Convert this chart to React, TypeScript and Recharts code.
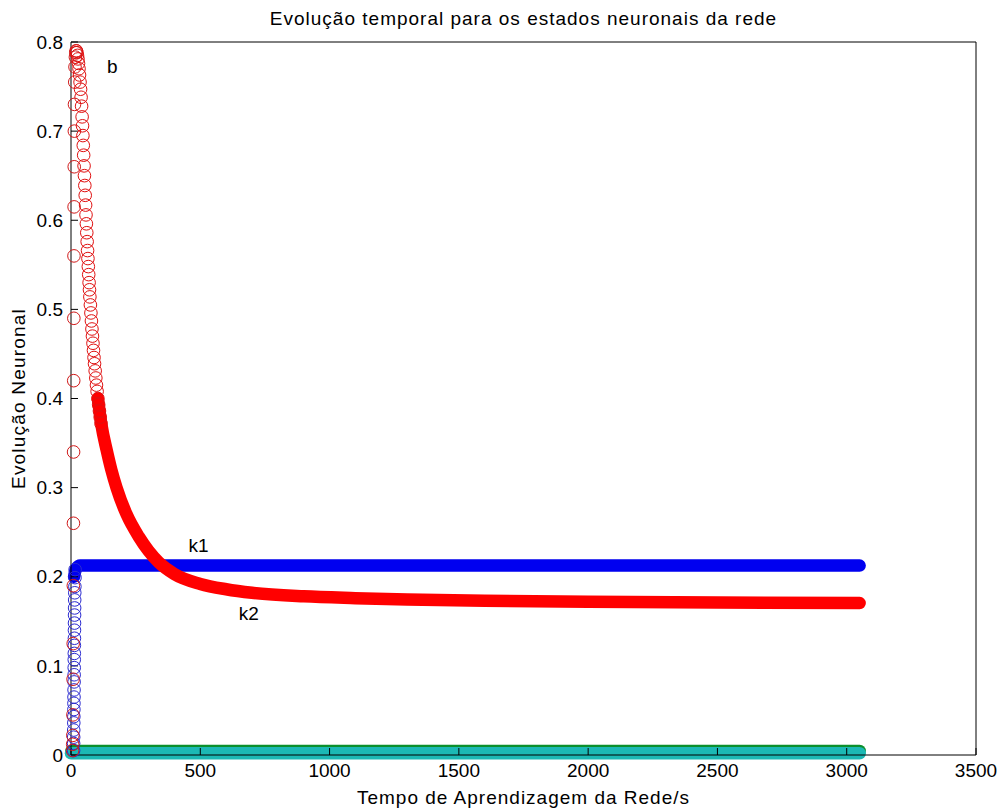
import React from "react";
import { ComposedChart, Line, Scatter, XAxis, YAxis, ReferenceDot } from "recharts";

type Pt = { t: number; v: number };
const pts = (rows: number[][]): Pt[] => rows.map(([t, v]) => ({ t, v }));

const xTicks = [0, 500, 1000, 1500, 2000, 2500, 3000, 3500];
const yTicks = [0, 0.1, 0.2, 0.3, 0.4, 0.5, 0.6, 0.7, 0.8];

// red state (b): fast rise + early decay, drawn as open circles
const bRise = pts([
    [6, 0.005], [6.5, 0.012], [7, 0.022], [7.5, 0.045], [8, 0.085], [8.5, 0.125],
    [9, 0.19], [9.5, 0.26], [10, 0.34], [10.5, 0.42], [11, 0.49], [11.5, 0.56],
    [12, 0.615], [12.5, 0.66], [13, 0.70], [13.5, 0.73], [14.5, 0.755], [15.5, 0.772],
    [17, 0.783], [18.5, 0.788], [20, 0.79],
]);
const bDecay = pts([
    [21, 0.79], [23, 0.788], [25, 0.785], [27, 0.781], [29, 0.776], [31, 0.77],
    [33, 0.763], [35, 0.755], [37, 0.747], [39, 0.738], [41, 0.728], [43, 0.716],
    [44.5, 0.706], [46, 0.695], [47.5, 0.684], [49, 0.673], [50.5, 0.661], [52, 0.65],
    [53.5, 0.639], [55, 0.628], [56.5, 0.617], [58, 0.606], [59.5, 0.596], [61, 0.586],
    [62.5, 0.576], [64, 0.566], [65.5, 0.557], [67, 0.548], [68.5, 0.539], [70, 0.53],
    [71.5, 0.522], [73, 0.514], [75, 0.505], [77, 0.496], [79, 0.487], [81, 0.478],
    [83, 0.47], [85, 0.462], [87, 0.454], [89, 0.446], [91, 0.439], [93.5, 0.431],
    [96, 0.423], [98.5, 0.415], [101, 0.408], [104, 0.4], [107, 0.393], [110, 0.386],
    [113, 0.379], [116, 0.372],
]);
// red state: dense part, reads as a solid band
const bTail = pts([
    [104, 0.4], [118, 0.37], [138, 0.342], [156, 0.32], [176, 0.3], [215, 0.27],
    [262, 0.245], [300, 0.229], [340, 0.216], [400, 0.203], [500, 0.192], [600, 0.186],
    [700, 0.182], [900, 0.178], [1100, 0.176], [1300, 0.1745], [1600, 0.173],
    [2000, 0.172], [2500, 0.171], [3050, 0.1705],
]);

// blue state (k1)
const k1Rise = pts([
    [10, 0.005], [10.2, 0.013], [10.4, 0.02], [10.6, 0.028], [10.8, 0.036], [11, 0.043],
    [11.2, 0.051], [11.4, 0.058], [11.6, 0.065], [11.8, 0.073], [12, 0.082], [12.2, 0.09],
    [12.4, 0.098], [12.6, 0.107], [12.8, 0.114], [13, 0.123], [13.2, 0.131], [13.4, 0.14],
    [13.6, 0.148], [13.8, 0.157], [14, 0.165], [14.3, 0.174], [14.6, 0.182], [15, 0.189],
    [15.5, 0.199], [16, 0.208],
]);
const k1Tail = pts([
    [12, 0.2], [16, 0.206], [22, 0.21], [35, 0.2125], [500, 0.2125], [1000, 0.2125],
    [2000, 0.2125], [3050, 0.2125],
]);

// green and cyan states, both near zero
const gTail = pts([[2, 0.0045], [1000, 0.0045], [2000, 0.0045], [3050, 0.0045]]);
const cTail = pts([[0, 0.002], [1000, 0.002], [2000, 0.002], [3050, 0.002]]);

const notes = [
    { t: 160, v: 0.7725, text: "b" },
    { t: 493, v: 0.2356, text: "k1" },
    { t: 688, v: 0.1588, text: "k2" },
];

const FONT = '"Liberation Sans", Arial, Helvetica, sans-serif';

const ring = (color: string) => (p: any) =>
    <circle cx={p.cx} cy={p.cy} r={6.3} fill="none" stroke={color} strokeWidth={1} />;

const band = (data: Pt[], color: string, key: string) => (
    <Line
        key={key}
        data={data}
        dataKey="v"
        type="monotone"
        stroke={color}
        strokeWidth={12.5}
        strokeLinecap="round"
        strokeLinejoin="round"
        dot={false}
        activeDot={false}
        isAnimationActive={false}
    />
);

export default function App() {
    return (
        <div style={{ position: "absolute", left: 0, top: 0, width: 1004, height: 810, background: "#fff", fontFamily: FONT }}>
            <ComposedChart width={1004} height={810} margin={{ top: 41, right: 27, bottom: 25, left: 11 }}>
                <XAxis
                    dataKey="t"
                    type="number"
                    domain={[0, 3500]}
                    ticks={xTicks}
                    height={30}
                    stroke="#000"
                    tickSize={-7}
                    tickMargin={16}
                    tick={{ fill: "#000", fontSize: 19, fontFamily: FONT }}
                    label={{ value: "Tempo de Aprendizagem da Rede/s", position: "bottom", offset: 6, fill: "#000", fontSize: 19, fontFamily: FONT, letterSpacing: 1 }}
                />
                <XAxis
                    xAxisId="top"
                    orientation="top"
                    dataKey="t"
                    type="number"
                    domain={[0, 3500]}
                    ticks={xTicks}
                    height={1}
                    stroke="#000"
                    tickSize={-7}
                    tick={false}
                    label={{ value: "Evolução temporal para os estados neuronais da rede", position: "top", offset: 16, fill: "#000", fontSize: 19, fontFamily: FONT, letterSpacing: 1 }}
                />
                <YAxis
                    type="number"
                    domain={[0, 0.8]}
                    ticks={yTicks}
                    width={60}
                    stroke="#000"
                    tickSize={-7}
                    tickMargin={15}
                    tick={{ fill: "#000", fontSize: 19, fontFamily: FONT }}
                    label={{ value: "Evolução Neuronal", angle: -90, position: "insideLeft", offset: 7, fill: "#000", fontSize: 19, fontFamily: FONT, letterSpacing: 1.2, style: { textAnchor: "middle" } }}
                />
                <YAxis
                    yAxisId="right"
                    orientation="right"
                    type="number"
                    domain={[0, 0.8]}
                    ticks={yTicks}
                    width={1}
                    stroke="#000"
                    tickSize={-7}
                    tick={false}
                />
                {band(gTail, "#0b8f2c", "g")}
                {band(cTail, "#1cb8b4", "c")}
                {band(k1Tail, "#0000f0", "k1")}
                <Scatter data={k1Rise} dataKey="v" shape={ring("#2a2ad0")} isAnimationActive={false} />
                {band(bTail, "#ff0000", "b")}
                <Scatter data={bRise} dataKey="v" shape={ring("#d01818")} isAnimationActive={false} />
                <Scatter data={bDecay} dataKey="v" shape={ring("#e01010")} isAnimationActive={false} />
                {notes.map((n) => (
                    <ReferenceDot
                        key={n.text}
                        x={n.t}
                        y={n.v}
                        r={0}
                        shape={(p: any) => (
                            <text x={p.cx} y={p.cy} textAnchor="middle" dominantBaseline="central" fontSize={19} fontFamily={FONT} fill="#000">
                                {n.text}
                            </text>
                        )}
                    />
                ))}
            </ComposedChart>
        </div>
    );
}
